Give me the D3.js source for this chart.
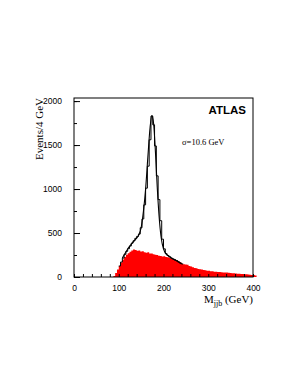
<!DOCTYPE html>
<html>
<head>
<meta charset="utf-8">
<script src="https://cdn.jsdelivr.net/npm/d3@7"></script>
<style>
  body { margin: 0; background: #fff; }
  svg { display: block; }
</style>
</head>
<body>
<div id="chart"></div>
<script>
// 4 GeV bins, lower edges
var binWidth = 4;

// background (red, filled) histogram: first bin starts at 88 GeV
var bkgStart = 88;
var bkgValues = [10, 45, 85, 125, 165, 200, 228, 252, 270, 288, 300, 312,
  306, 298, 300, 290, 294, 282, 276, 280, 268, 266, 260, 252,
  250, 242, 240, 232, 236, 228, 224, 218, 210, 202, 198, 190,
  180, 168, 152, 146, 142, 138, 126, 118, 112, 102, 100, 92,
  88, 86, 80, 78, 72, 70, 66, 64, 60, 60, 56, 57,
  54, 52, 50, 50, 48, 46, 44, 42, 40, 38, 38, 35,
  34, 31, 30, 28, 27, 24, 22, 18];

// signal + background histogram (black line), first bin starts at 100 GeV
var totStart = 100;
var totValues = [125, 170, 215, 258, 292, 322, 352, 385, 412, 440, 462, 488,
  560, 660, 820, 1010, 1260, 1560, 1830, 1730, 1490, 1150, 880, 640,
  430, 320, 265, 245, 230, 215, 205, 195, 185, 170, 158, 148];

// fitted curve (Gaussian peak plus background)
var fitMass = [108, 115, 122, 130, 138, 145, 150, 155, 160, 165, 170, 174, 178, 182, 186, 190, 195, 200, 206, 212, 220, 230, 240];
var fitEvents = [215, 275, 335, 385, 430, 480, 560, 740, 1000, 1360, 1700, 1835, 1740, 1420, 1020, 700, 440, 320, 262, 236, 208, 182, 150];

var xTicks = [0, 100, 200, 300, 400];
var yTicks = [0, 500, 1000, 1500, 2000];

var pageWidth = 297;
var pageHeight = 384;

var frame = {
  left: 74,
  right: 253,
  top: 98,
  bottom: 277
};

var xScale = d3.scaleLinear().domain([0, 400]).range([frame.left, frame.right]);
var yScale = d3.scaleLinear().domain([0, 2035]).range([frame.bottom, frame.top]);

var svg = d3.select("#chart")
  .append("svg")
  .attr("width", pageWidth)
  .attr("height", pageHeight)
  .style("font-family", "'Liberation Serif', 'DejaVu Serif', serif");

svg.append("rect")
  .attr("width", pageWidth)
  .attr("height", pageHeight)
  .attr("fill", "#fff");

// turn a list of bin contents into step points
function stepPoints(start, values) {
  var pts = [[start, 0]];
  values.forEach(function(v, i) {
    pts.push([start + i * binWidth, v]);
    pts.push([start + (i + 1) * binWidth, v]);
  });
  pts.push([start + values.length * binWidth, 0]);
  return pts;
}

var stepLine = d3.line()
  .x(function(d) { return xScale(d[0]); })
  .y(function(d) { return yScale(d[1]); });

//Background, filled red
svg.append("path")
  .datum(stepPoints(bkgStart, bkgValues))
  .attr("d", stepLine)
  .attr("fill", "#ff0000")
  .attr("stroke", "none");

//Signal + background histogram outline
var totPts = stepPoints(totStart, totValues).slice(1, -1);
svg.append("path")
  .datum(totPts)
  .attr("d", stepLine)
  .attr("fill", "none")
  .attr("stroke", "#000")
  .attr("stroke-width", 1);

//Fit curve
var fitLine = d3.line()
  .x(function(d, i) { return xScale(d); })
  .y(function(d, i) { return yScale(fitEvents[i]); })
  .curve(d3.curveMonotoneX);

svg.append("path")
  .datum(fitMass)
  .attr("d", fitLine)
  .attr("fill", "none")
  .attr("stroke", "#000")
  .attr("stroke-width", 1.1);

//Frame
svg.append("rect")
  .attr("x", frame.left)
  .attr("y", frame.top)
  .attr("width", frame.right - frame.left)
  .attr("height", frame.bottom - frame.top)
  .attr("fill", "none")
  .attr("stroke", "#000")
  .attr("stroke-width", 1);

//x axis: inward ticks every 20 GeV
var xAxis = d3.axisTop(xScale)
  .tickValues(d3.range(0, 401, 20))
  .tickSize(3)
  .tickFormat("");
svg.append("g")
  .attr("transform", "translate(0," + frame.bottom + ")")
  .call(xAxis)
  .call(function(g) { g.select(".domain").remove(); });

svg.append("g")
  .attr("transform", "translate(0," + frame.bottom + ")")
  .call(d3.axisBottom(xScale).tickValues(xTicks).tickSize(0).tickPadding(8).tickFormat(d3.format("d")))
  .call(function(g) {
    g.select(".domain").remove();
    g.selectAll("text").attr("font-family", null).attr("font-size", 8.5);
  });

//y axis: inward ticks, longer at labelled values
var yAxisMinor = d3.axisRight(yScale)
  .tickValues(d3.range(0, 2001, 250))
  .tickSize(3)
  .tickFormat("");
svg.append("g")
  .attr("transform", "translate(" + frame.left + ",0)")
  .call(yAxisMinor)
  .call(function(g) { g.select(".domain").remove(); });

svg.append("g")
  .attr("transform", "translate(" + frame.left + ",0)")
  .call(d3.axisRight(yScale).tickValues(yTicks).tickSize(6).tickFormat(""))
  .call(function(g) { g.select(".domain").remove(); });

svg.append("g")
  .attr("transform", "translate(" + frame.left + ",0)")
  .call(d3.axisLeft(yScale).tickValues(yTicks).tickSize(0).tickPadding(12).tickFormat(d3.format("d")))
  .call(function(g) {
    g.select(".domain").remove();
    g.selectAll("text").attr("font-family", null).attr("font-size", 8.5);
  });

//Axis titles
svg.append("text")
  .attr("transform", "translate(43," + frame.top + ") rotate(-90)")
  .attr("text-anchor", "end")
  .attr("font-size", 11)
  .text("Events/4 GeV");

var xTitle = svg.append("text")
  .attr("x", frame.right)
  .attr("y", 303)
  .attr("text-anchor", "end")
  .attr("font-size", 11);
xTitle.append("tspan").text("M");
xTitle.append("tspan").attr("font-size", 8).attr("dy", 3).text("jjb");
xTitle.append("tspan").attr("dy", -3).text(" (GeV)");

//Labels in the frame
svg.append("text")
  .attr("x", 246)
  .attr("y", 114)
  .attr("text-anchor", "end")
  .attr("font-family", "'Liberation Sans', Arial, sans-serif")
  .attr("font-weight", "bold")
  .attr("font-size", 11.5)
  .text("ATLAS");

svg.append("text")
  .attr("x", 182)
  .attr("y", 145)
  .attr("font-size", 8.5)
  .text("\u03c3=10.6 GeV");
</script>
</body>
</html>
